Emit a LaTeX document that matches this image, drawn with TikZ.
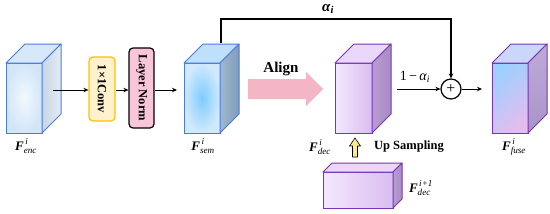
\documentclass[tikz,border=0pt]{standalone}
\usepackage{fontspec}
\setmainfont{Liberation Serif}
\usepackage{amsmath}
\usetikzlibrary{arrows.meta}
\definecolor{bl}{HTML}{4B7BE0}
\definecolor{pu}{HTML}{7A35B5}
\definecolor{alignpink}{HTML}{F4B6C4}
\definecolor{upyellow}{HTML}{FFEA90}
\newcommand{\Flab}[2]{$\text{\bfseries\itshape F}^{\,\text{\itshape #1}}_{\text{\itshape #2}}$}
\newcommand{\cubesides}[5]{%
  \path[#3, draw=#5, line width=1pt, line join=round] (#1.north west) -- ++(#2,-#2) -- ([shift={(#2,-#2)}]#1.north east) -- (#1.north east) -- cycle;
  \path[#4, draw=#5, line width=1pt, line join=round] (#1.north east) -- ++(#2,-#2) -- ([shift={(#2,-#2)}]#1.south east) -- (#1.south east) -- cycle;
}
\begin{document}
\begin{tikzpicture}[x=1pt,y=-1pt,
  cubefront/.style={draw=#1, line width=1pt, outer sep=0pt, inner sep=0pt},
  conn/.style={line width=1pt, -{Stealth[length=5pt,width=4.5pt]}},
  lab/.style={font=\fontsize{13}{15}\selectfont},
  boldtxt/.style={font=\bfseries\fontsize{12.5}{14}\selectfont},
  procbox/.style={rounded corners=4pt, line width=1.2pt, minimum width=26pt, inner sep=0pt}]
\useasboundingbox (0,0) rectangle (550,214);

% cube 1: F_enc
\node[cubefront=bl, minimum width=36pt, minimum height=70pt, inner color={rgb,255:red,242;green,248;blue,254}, outer color={rgb,255:red,210;green,230;blue,248}] (enc) at (24,98) {};
\cubesides{enc}{19}{fill={rgb,255:red,214;green,232;blue,250}}{left color={rgb,255:red,200;green,214;blue,228}, right color={rgb,255:red,226;green,236;blue,245}}{bl}
\node[lab] (encl) at (26,146) {\Flab{i}{enc}};

% 1x1 conv
\node[procbox, draw={rgb,255:red,255;green,192;blue,0}, fill={rgb,255:red,255;green,242;blue,204}, minimum height=64pt] (conv) at (102,89) {};
\node[boldtxt, rotate=-90] (convt) at (conv.center) {1×1Conv};

% layer norm
\node[procbox, draw=black, fill={rgb,255:red,248;green,198;blue,216}, minimum width=25pt, minimum height=80pt] (norm) at (141.5,88) {};
\node[boldtxt, rotate=-90] (normt) at (norm.center) {Layer Norm};

% cube 2: F_sem
\node[cubefront=bl, minimum width=36pt, minimum height=70pt, inner color={rgb,255:red,127;green,203;blue,255}, outer color={rgb,255:red,208;green,234;blue,252}] (sem) at (202,98) {};
\cubesides{sem}{19}{fill={rgb,255:red,190;green,224;blue,250}}{left color={rgb,255:red,160;green,184;blue,206}, right color={rgb,255:red,127;green,156;blue,184}}{bl}
\node[lab] (seml) at (203,146) {\Flab{i}{sem}};

% arrows
\draw[conn] ([shift={(11,-8)}]enc.east) -- (conv.west |- 0,90);
\draw[conn] (conv.east |- 0,90) -- (norm.west |- 0,90);
\draw[conn, shorten >=7pt] (norm.east |- 0,90) -- (sem.west |- 0,90);

% Align arrow
\coordinate (al0) at (248,89);
\fill[alignpink] (al0) ++(0,-10) -- ++(58,0) -- ++(0,-7) -- ++(17,17) -- ++(-17,17) -- ++(0,-7) -- ++(-58,0) -- cycle;
\node[font=\bfseries\fontsize{15}{17}\selectfont] (alignt) at (281,69) {Align};

% cube 3: F_dec^i
\node[cubefront=pu, minimum width=37pt, minimum height=70pt, left color={rgb,255:red,244;green,232;blue,253}, right color={rgb,255:red,217;green,189;blue,241}] (dec) at (353.5,98) {};
\cubesides{dec}{19}{fill={rgb,255:red,234;green,216;blue,250}}{left color={rgb,255:red,185;green,156;blue,211}, right color={rgb,255:red,167;green,139;blue,196}}{pu}
\node[lab] (decl) at (320,147) {\Flab{i}{dec}};

% up sampling arrow
\coordinate (up0) at (355,157);
\path[draw=black, line width=0.6pt, fill=upyellow, line join=miter] (up0) ++(-2.5,0) -- ++(0,-11) -- ++(-3,0) -- ++(5.5,-8) -- ++(5.5,8) -- ++(-3,0) -- ++(0,11) -- cycle;
\node[boldtxt] (upt) at (409,147) {Up Sampling};

% cube 4: F_dec^{i+1}
\node[cubefront=pu, minimum width=70pt, minimum height=36pt, left color={rgb,255:red,244;green,232;blue,253}, right color={rgb,255:red,217;green,189;blue,241}] (dec2) at (358,190) {};
\cubesides{dec2}{9}{fill={rgb,255:red,234;green,216;blue,250}}{left color={rgb,255:red,185;green,156;blue,211}, right color={rgb,255:red,167;green,139;blue,196}}{pu}
\node[lab] (dec2l) at (421,188) {\Flab{i+1}{dec}};

% plus
\node[circle, draw=black, line width=1.2pt, minimum size=20pt, inner sep=0pt, font=\fontsize{16}{16}\selectfont] (plus) at (451,89) {+};
\coordinate (c1) at (397,89);
\draw[conn] (c1) -- (plus.west);
\node[font=\fontsize{14}{16}\selectfont] (oma) at (415,77) {1\,−\,\textit{α}$_{\text{\itshape i}}$};

% alpha path
\coordinate (a0) at (221,43);
\coordinate (a1) at (221,19);
\draw[conn, line width=1.3pt] (a0) -- (a1) -- (plus.north |- a1) -- (plus.north);
\node[font=\bfseries\fontsize{15}{17}\selectfont] (alab) at (328,9) {\textit{α}$_{\text{\bfseries\itshape i}}$};

% cube 5: F_fuse
\node[cubefront=pu, minimum width=36pt, minimum height=70pt, top color={rgb,255:red,158;green,208;blue,255}, bottom color={rgb,255:red,227;green,189;blue,239}, shading angle=40] (fuse) at (510,98) {};
\cubesides{fuse}{19}{fill={rgb,255:red,202;green,214;blue,250}}{top color={rgb,255:red,190;green,170;blue,218}, bottom color={rgb,255:red,169;green,148;blue,200}}{pu}
\node[lab] (fusel) at (514,147) {\Flab{i}{fuse}};

\draw[conn, shorten >=10pt] (plus.east) -- (fuse.west |- plus.east);
\end{tikzpicture}
\end{document}
